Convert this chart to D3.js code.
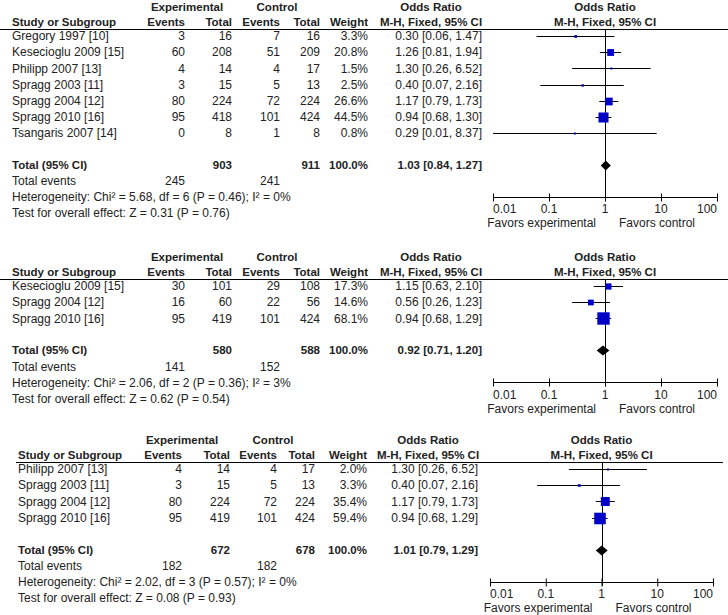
<!DOCTYPE html>
<html><head><meta charset="utf-8">
<script src="https://cdn.jsdelivr.net/npm/d3@7/dist/d3.min.js"></script>
<style>
body{margin:0;background:#fff}
svg{display:block}
text{font-family:"Liberation Sans",Arial,sans-serif;font-size:12px;fill:#222}
.b{font-weight:bold;font-size:11.5px}
</style>
</head><body>
<svg id="c" width="728" height="615"></svg>
<script>
// ---------- DATA ----------
const studies1 = ["Gregory 1997 [10]","Kesecioglu 2009 [15]","Philipp 2007 [13]","Spragg 2003 [11]","Spragg 2004 [12]","Spragg 2010 [16]","Tsangaris 2007 [14]"];
const expEvents1 = [3,60,4,3,80,95,0];
const expTotal1  = [16,208,14,15,224,418,8];
const ctlEvents1 = [7,51,4,5,72,101,1];
const ctlTotal1  = [16,209,17,13,224,424,8];
const weight1    = [3.3,20.8,1.5,2.5,26.6,44.5,0.8];
const or1        = [0.30,1.26,1.30,0.40,1.17,0.94,0.29];
const lo1        = [0.06,0.81,0.26,0.07,0.79,0.68,0.01];
const hi1        = [1.47,1.94,6.52,2.16,1.73,1.30,8.37];

const studies2 = ["Kesecioglu 2009 [15]","Spragg 2004 [12]","Spragg 2010 [16]"];
const expEvents2 = [30,16,95];
const expTotal2  = [101,60,419];
const ctlEvents2 = [29,22,101];
const ctlTotal2  = [108,56,424];
const weight2    = [17.3,14.6,68.1];
const or2        = [1.15,0.56,0.94];
const lo2        = [0.63,0.26,0.68];
const hi2        = [2.10,1.23,1.29];

const studies3 = ["Philipp 2007 [13]","Spragg 2003 [11]","Spragg 2004 [12]","Spragg 2010 [16]"];
const expEvents3 = [4,3,80,95];
const expTotal3  = [14,15,224,419];
const ctlEvents3 = [4,5,72,101];
const ctlTotal3  = [17,13,224,424];
const weight3    = [2.0,3.3,35.4,59.4];
const or3        = [1.30,0.40,1.17,0.94];
const lo3        = [0.26,0.07,0.79,0.68];
const hi3        = [6.52,2.16,1.73,1.29];

const totalExp    = [903,580,672];
const totalCtl    = [911,588,678];
const totEventsExp = [245,141,182];
const totEventsCtl = [241,152,182];
const totalOR  = [1.03,0.92,1.01];
const totalLo  = [0.84,0.71,0.79];
const totalHi  = [1.27,1.20,1.29];
const hetText  = ["Heterogeneity: Chi² = 5.68, df = 6 (P = 0.46); I² = 0%",
                  "Heterogeneity: Chi² = 2.06, df = 2 (P = 0.36); I² = 3%",
                  "Heterogeneity: Chi² = 2.02, df = 3 (P = 0.57); I² = 0%"];
const testText = ["Test for overall effect: Z = 0.31 (P = 0.76)",
                  "Test for overall effect: Z = 0.62 (P = 0.54)",
                  "Test for overall effect: Z = 0.08 (P = 0.93)"];

const tickVals   = [0.01,0.1,1,10,100];
const tickLabels = ["0.01","0.1","1","10","100"];
const favorLabels = ["Favors experimental","Favors control"];

// ---------- LAYOUT ----------
const svg = d3.select("#c");
const BLUE = "#0000c8";
const STEP = 16.2;

const layouts = [
  {top:7,   study:12, evE:185, totE:232, evC:280, totC:320, wt:368, orR:482, orC:431, expC:187, ctlC:277, p0:493, p1:717, ul0:0,  ul1:728},
  {top:257, study:12, evE:185, totE:232, evC:280, totC:320, wt:368, orR:482, orC:431, expC:187, ctlC:277, p0:493, p1:717, ul0:0,  ul1:728},
  {top:440, study:18, evE:182, totE:230, evC:277, totC:315, wt:367, orR:478, orC:428, expC:182, ctlC:273, p0:490, p1:713, ul0:16, ul1:723}
];

const panels = [
  {studies:studies1, eE:expEvents1, tE:expTotal1, eC:ctlEvents1, tC:ctlTotal1, w:weight1, or:or1, lo:lo1, hi:hi1},
  {studies:studies2, eE:expEvents2, tE:expTotal2, eC:ctlEvents2, tC:ctlTotal2, w:weight2, or:or2, lo:lo2, hi:hi2},
  {studies:studies3, eE:expEvents3, tE:expTotal3, eC:ctlEvents3, tC:ctlTotal3, w:weight3, or:or3, lo:lo3, hi:hi3}
];

function txt(g, x, y, s, anchor, bold){
  return g.append("text").attr("x",x).attr("y",y).attr("dy","0.35em")
    .attr("text-anchor",anchor||"start").attr("class",bold?"b":null).text(s);
}
const f2 = d => d.toFixed(2);
const ciStr = (o,l,h) => `${f2(o)} [${f2(l)}, ${f2(h)}]`;

panels.forEach((P, pi) => {
  const L = layouts[pi];
  const g = svg.append("g");
  const h1 = L.top, h2 = L.top+15, ul = L.top+22, r0 = L.top+29;
  const n = P.studies.length;
  const rowY = i => r0 + i*STEP;
  const totY = rowY(n-1) + 32;
  const evY = totY+16, hetY = totY+32, testY = totY+48;
  const axY = totY+32, tlY = totY+44, favY = totY+58;

  const x = d3.scaleLog().domain([0.01,100]).range([L.p0, L.p1]);
  const x1 = x(1);

  // headers
  txt(g, L.expC, h1, "Experimental", "middle", true);
  txt(g, L.ctlC, h1, "Control", "middle", true);
  txt(g, L.orC, h1, "Odds Ratio", "middle", true);
  txt(g, x1, h1, "Odds Ratio", "middle", true);
  txt(g, L.study, h2, "Study or Subgroup", "start", true);
  txt(g, L.evE, h2, "Events", "end", true);
  txt(g, L.totE, h2, "Total", "end", true);
  txt(g, L.evC, h2, "Events", "end", true);
  txt(g, L.totC, h2, "Total", "end", true);
  txt(g, L.wt, h2, "Weight", "end", true);
  txt(g, L.orC, h2, "M-H, Fixed, 95% CI", "middle", true);
  txt(g, x1, h2, "M-H, Fixed, 95% CI", "middle", true);
  g.append("line").attr("x1",L.ul0).attr("x2",L.ul1).attr("y1",ul+0.5).attr("y2",ul+0.5)
    .attr("stroke","#000").attr("stroke-width",1);

  // rows
  P.studies.forEach((s,i) => {
    const y = rowY(i);
    txt(g, L.study, y, s);
    txt(g, L.evE, y, P.eE[i], "end");
    txt(g, L.totE, y, P.tE[i], "end");
    txt(g, L.evC, y, P.eC[i], "end");
    txt(g, L.totC, y, P.tC[i], "end");
    txt(g, L.wt, y, P.w[i].toFixed(1)+"%", "end");
    txt(g, L.orR, y, ciStr(P.or[i],P.lo[i],P.hi[i]), "end");
  });

  // totals
  txt(g, L.study, totY, "Total (95% CI)", "start", true);
  txt(g, L.totE, totY, totalExp[pi], "end", true);
  txt(g, L.totC, totY, totalCtl[pi], "end", true);
  txt(g, L.wt, totY, "100.0%", "end", true);
  txt(g, L.orR, totY, ciStr(totalOR[pi],totalLo[pi],totalHi[pi]), "end", true);
  txt(g, L.study, evY, "Total events");
  txt(g, L.evE, evY, totEventsExp[pi], "end");
  txt(g, L.evC, evY, totEventsCtl[pi], "end");
  txt(g, L.study, hetY, hetText[pi]);
  txt(g, L.study, testY, testText[pi]);

  // forest plot
  const fx = Math.round(x1)+0.5;
  g.append("line").attr("x1",fx).attr("x2",fx).attr("y1",ul).attr("y2",axY+4)
    .attr("stroke","#000").attr("stroke-width",1);
  P.studies.forEach((s,i) => {
    const y = Math.round(rowY(i))+0.5;
    g.append("line").attr("x1",x(P.lo[i])).attr("x2",x(P.hi[i])).attr("y1",y).attr("y2",y)
      .attr("stroke","#000").attr("stroke-width",1);
    const side = Math.max(2, 1.5*Math.sqrt(P.w[i]));
    g.append("rect").attr("x",x(P.or[i])-side/2).attr("y",y-side/2)
      .attr("width",side).attr("height",side).attr("fill",BLUE);
  });
  const dy = Math.round(totY)+0.5;
  g.append("path").attr("d",
    `M${x(totalLo[pi])},${dy} L${x(totalOR[pi])},${dy-5} L${x(totalHi[pi])},${dy} L${x(totalOR[pi])},${dy+5} Z`)
    .attr("fill","#000");

  // axis
  const ay = Math.round(axY)+0.5;
  const axis = d3.axisBottom(x).tickValues(tickVals).tickSize(4).tickFormat("");
  const ag = g.append("g").attr("transform",`translate(0,${ay})`).call(axis);
  ag.select(".domain").attr("d",`M${L.p0},0H${L.p1}`).attr("stroke","#000");
  ag.selectAll(".tick line").attr("y1",-4).attr("y2",4).attr("stroke","#000");
  tickVals.forEach((v,i) => {
    const anchor = i===0 ? "start" : (i===tickVals.length-1 ? "end" : "middle");
    txt(g, x(v), tlY, tickLabels[i], anchor);
  });
  txt(g, x1-9, favY, favorLabels[0], "end");
  txt(g, x1+14, favY, favorLabels[1], "start");
});
</script>
</body></html>
